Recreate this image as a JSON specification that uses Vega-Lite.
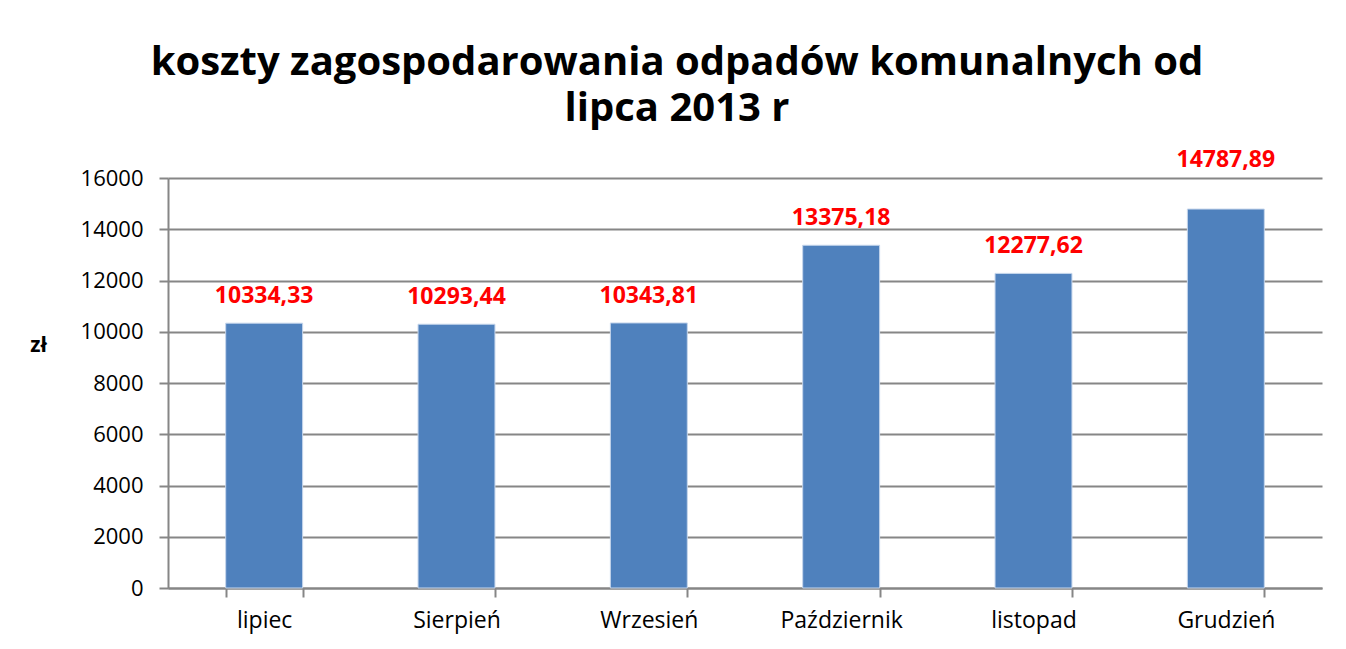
{
  "$schema": "https://vega.github.io/schema/vega-lite/v6.json",
  "autosize": "none",
  "width": 1154,
  "height": 410,
  "padding": {"left": 168, "top": 178, "right": 24, "bottom": 61},
  "background": "white",
  "config": {"view": {"stroke": null}, "font": "Open Sans"},
  "title": {
    "text": ["koszty zagospodarowania odpadów komunalnych od", "lipca 2013 r"],
    "fontSize": 40,
    "fontWeight": "bold",
    "font": "Open Sans",
    "color": "#000000",
    "anchor": "middle",
    "frame": "group",
    "dx": -68,
    "offset": 20,
    "lineHeight": 46
  },
  "data": {
    "values": [
      {"miesiac": "lipiec", "koszt": 10334.33, "etykieta": "10334,33"},
      {"miesiac": "Sierpień", "koszt": 10293.44, "etykieta": "10293,44"},
      {"miesiac": "Wrzesień", "koszt": 10343.81, "etykieta": "10343,81"},
      {"miesiac": "Październik", "koszt": 13375.18, "etykieta": "13375,18"},
      {"miesiac": "listopad", "koszt": 12277.62, "etykieta": "12277,62"},
      {"miesiac": "Grudzień", "koszt": 14787.89, "etykieta": "14787,89"}
    ]
  },
  "encoding": {
    "x": {
      "field": "miesiac",
      "type": "nominal",
      "sort": null,
      "scale": {"paddingInner": 0.6, "paddingOuter": 0.3},
      "axis": {
        "title": null,
        "labelAngle": 0,
        "labelFontSize": 23,
        "labelFont": "Open Sans",
        "labelColor": "#000000",
        "labelPadding": 12,
        "domainColor": "#868686",
        "domainWidth": 2,
        "tickColor": "#868686",
        "tickWidth": 2,
        "tickSize": 9,
        "tickBand": "extent",
        "grid": false
      }
    },
    "y": {
      "field": "koszt",
      "type": "quantitative",
      "scale": {"domain": [0, 16000], "nice": false},
      "axis": {
        "values": [0, 2000, 4000, 6000, 8000, 10000, 12000, 14000, 16000],
        "format": "d",
        "title": "zł",
        "titleAngle": 0,
        "titleFontSize": 21,
        "titleFontWeight": "bold",
        "titleFont": "Open Sans",
        "titleX": -130,
        "titleY": 167,
        "titleAlign": "center",
        "titleBaseline": "middle",
        "labelFontSize": 22,
        "labelFont": "Open Sans",
        "labelColor": "#000000",
        "labelPadding": 16,
        "domainColor": "#868686",
        "domainWidth": 2,
        "tickColor": "#868686",
        "tickWidth": 2,
        "tickSize": 9,
        "grid": true,
        "gridColor": "#868686",
        "gridWidth": 2
      }
    }
  },
  "layer": [
    {"mark": {"type": "bar", "color": "#4F81BD", "stroke": "#c6d6ec", "strokeWidth": 1}},
    {
      "transform": [{"filter": "datum.miesiac !== 'Grudzień'"}],
      "mark": {"type": "text", "color": "#FF0000", "fontSize": 23, "fontWeight": "bold", "font": "Open Sans", "baseline": "middle", "dy": -27},
      "encoding": {"text": {"field": "etykieta"}}
    },
    {
      "transform": [{"filter": "datum.miesiac === 'Grudzień'"}],
      "mark": {"type": "text", "color": "#FF0000", "fontSize": 23, "fontWeight": "bold", "font": "Open Sans", "baseline": "middle", "dy": -49},
      "encoding": {"text": {"field": "etykieta"}}
    }
  ]
}
